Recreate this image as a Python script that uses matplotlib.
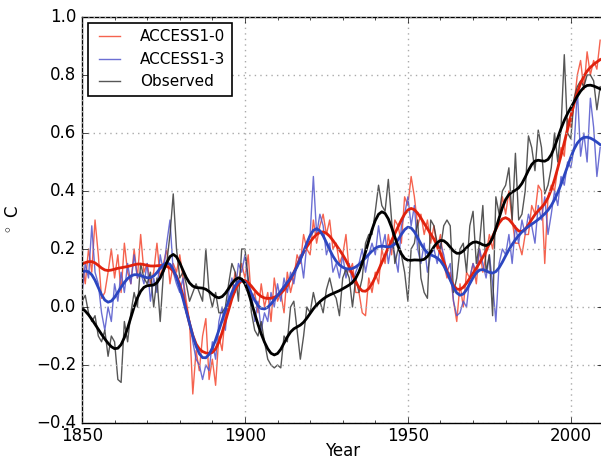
import numpy as np
import matplotlib
matplotlib.use('Agg')
from matplotlib import pyplot as plt
from matplotlib.ticker import MultipleLocator

plt.style.use('classic')

# annual anomalies (deg C), 1850-2009
years = np.arange(1850, 2010)

access10 = [
    0.15, 0.08, 0.20, 0.12, 0.30, 0.18, 0.03, 0.05, 0.12, 0.20,
    0.10, 0.18, 0.05, 0.22, 0.12, 0.08, 0.20, 0.10, 0.25, 0.12,
    0.15, 0.08, 0.12, 0.22, 0.10, 0.15, 0.20, 0.08, 0.15, 0.12,
    0.18, 0.10, 0.02, -0.05, -0.30, -0.15, -0.22, -0.10, -0.04, -0.25,
    -0.18, -0.27, -0.10, -0.15, -0.02, 0.00, 0.05, 0.12, 0.08, 0.15,
    0.10, 0.18, 0.02, 0.05, -0.02, 0.08, 0.00, 0.05, -0.05, 0.10,
    0.02, 0.05, -0.02, 0.12, 0.05, 0.10, 0.18, 0.15, 0.25, 0.20,
    0.18, 0.30, 0.22, 0.28, 0.32, 0.25, 0.30, 0.20, 0.22, 0.15,
    0.18, 0.25, 0.12, 0.15, 0.05, 0.05, -0.02, -0.03, 0.10, 0.05,
    0.12, 0.08, 0.20, 0.15, 0.25, 0.18, 0.30, 0.28, 0.22, 0.38,
    0.35, 0.45, 0.38, 0.28, 0.32, 0.25, 0.30, 0.22, 0.28, 0.20,
    0.25, 0.15, 0.10, 0.12, 0.02, -0.05, 0.08, 0.00, 0.12, 0.10,
    0.15, 0.08, 0.20, 0.12, 0.18, 0.25, 0.20, 0.28, 0.30, 0.38,
    0.32, 0.40, 0.30, 0.22, 0.22, 0.18, 0.25, 0.25, 0.35, 0.32,
    0.42, 0.40, 0.15, 0.38, 0.42, 0.40, 0.48, 0.55, 0.52, 0.65,
    0.62, 0.70, 0.80, 0.85, 0.75, 0.88, 0.80, 0.85, 0.82, 0.92,
]

access13 = [
    0.05, 0.15, 0.10, 0.28, 0.12, 0.08, -0.02, -0.08, 0.00, -0.05,
    0.08, 0.02, 0.12, 0.05, 0.15, 0.08, 0.18, 0.10, 0.12, 0.08,
    0.15, 0.02, 0.10, 0.05, 0.18, 0.12, 0.22, 0.30, 0.12, 0.08,
    0.05, 0.10, -0.02, -0.05, -0.12, -0.18, -0.20, -0.25, -0.20, -0.22,
    -0.12, -0.18, -0.05, 0.00, -0.08, 0.05, 0.10, 0.05, 0.15, 0.12,
    0.18, 0.08, 0.05, -0.05, 0.02, -0.08, -0.02, -0.05, 0.05, 0.00,
    0.08, 0.02, 0.10, 0.05, 0.12, 0.08, 0.15, 0.18, 0.10, 0.22,
    0.25, 0.45, 0.25, 0.32, 0.28, 0.18, 0.22, 0.12, 0.15, 0.10,
    0.18, 0.10, 0.15, 0.08, 0.12, 0.15, 0.20, 0.12, 0.18, 0.22,
    0.18, 0.28, 0.20, 0.25, 0.15, 0.22, 0.18, 0.12, 0.28, 0.32,
    0.38, 0.28, 0.35, 0.20, 0.15, 0.22, 0.12, 0.18, 0.20, 0.15,
    0.22, 0.18, 0.12, 0.15, 0.02, -0.03, -0.02, 0.02, 0.00, 0.10,
    0.15, 0.12, 0.20, 0.15, 0.10, 0.18, 0.08, -0.05, 0.15, 0.20,
    0.18, 0.25, 0.15, 0.28, 0.22, 0.30, 0.25, 0.32, 0.28, 0.22,
    0.35, 0.30, 0.38, 0.25, 0.32, 0.40, 0.35, 0.45, 0.42, 0.50,
    0.48, 0.55, 0.75, 0.52, 0.60, 0.50, 0.72, 0.62, 0.45, 0.55,
]

observed = [
    0.02, 0.04, -0.02, -0.05, -0.03, -0.10, -0.12, -0.08, -0.17, -0.10,
    -0.12, -0.25, -0.26, -0.05, -0.12, -0.02, 0.05, 0.00, 0.15, 0.10,
    0.08, 0.12, 0.00, 0.10, -0.05, 0.12, 0.15, 0.25, 0.39, 0.20,
    0.10, 0.12, 0.08, 0.02, 0.05, 0.08, 0.05, 0.02, 0.20, 0.05,
    0.00, 0.05, -0.02, -0.02, 0.00, 0.08, 0.15, 0.12, 0.02, 0.20,
    0.20, 0.10, -0.02, -0.08, -0.10, -0.05, -0.12, -0.18, -0.20, -0.21,
    -0.20, -0.21, -0.10, -0.12, 0.00, 0.02, -0.08, -0.18, -0.10, 0.00,
    -0.02, 0.05, 0.00, 0.02, -0.02, 0.06, 0.10, 0.05, 0.03, -0.03,
    0.10, 0.13, 0.10, 0.00, 0.10, 0.05, 0.10, 0.22, 0.25, 0.25,
    0.33, 0.42, 0.35, 0.33, 0.44, 0.30, 0.15, 0.20, 0.18, 0.12,
    0.02, 0.20, 0.22, 0.30, 0.10, 0.05, 0.03, 0.30, 0.28, 0.22,
    0.20, 0.28, 0.30, 0.28, 0.05, 0.10, 0.20, 0.22, 0.12, 0.28,
    0.33, 0.15, 0.22, 0.35, 0.12, 0.18, -0.03, 0.38, 0.32, 0.40,
    0.42, 0.48, 0.30, 0.53, 0.30, 0.32, 0.40, 0.59, 0.55, 0.47,
    0.61, 0.55, 0.39, 0.42, 0.48, 0.60, 0.50, 0.62, 0.87, 0.60,
    0.58, 0.72, 0.76, 0.78, 0.76, 0.80, 0.80, 0.78, 0.68, 0.76,
]

labels = ['ACCESS1-0', 'ACCESS1-3', 'Observed']


def smooth(y, sigma=2.5):
    # gaussian low-pass, renormalised at the ends
    y = np.asarray(y, dtype=float)
    k = np.arange(-10, 11)
    w = np.exp(-0.5 * (k / sigma) ** 2)
    num = np.convolve(y, w, mode='same')
    den = np.convolve(np.ones_like(y), w, mode='same')
    return num / den


fig = plt.figure(figsize=(6.01, 4.61), dpi=100, facecolor='white')
ax = fig.add_axes([82 / 601, 1 - 423 / 461, 1.004 - 82 / 601, (423 - 17) / 461])

thin = [('#f44830', access10), ('#5256cc', access13), ('#383838', observed)]
thick = ['#e0220e', '#2c46c0', 'black']

for (c, d), lab in zip(thin, labels):
    ax.plot(years, d, color=c, lw=1.0, alpha=0.85, label=lab)
for c, (_, d) in zip(thick, thin):
    ax.plot(years, smooth(d), color=c, lw=2.0)

ax.set_xlim(1850, 2010)
ax.set_ylim(-0.4, 1.0)
ax.set_xticks([1850, 1900, 1950, 2000])
ax.set_yticks(np.arange(-0.4, 1.01, 0.2))
ax.xaxis.set_minor_locator(MultipleLocator(10))
ax.grid(True, which='major', color='#aaaaaa', linestyle=':', linewidth=1)
ax.tick_params(labelsize=12)
ax.tick_params(axis='x', pad=3)
ax.set_xlabel('Year', fontsize=12, labelpad=-2)
ax.set_ylabel(r'$^\circ$ C', fontsize=12, labelpad=10)

leg = ax.legend(loc='upper left', fontsize=11, handlelength=2.0,
                handletextpad=1.0, borderaxespad=0.4)
leg.get_frame().set_linewidth(1.2)

fig.savefig('out.png', dpi=100, facecolor='white')
